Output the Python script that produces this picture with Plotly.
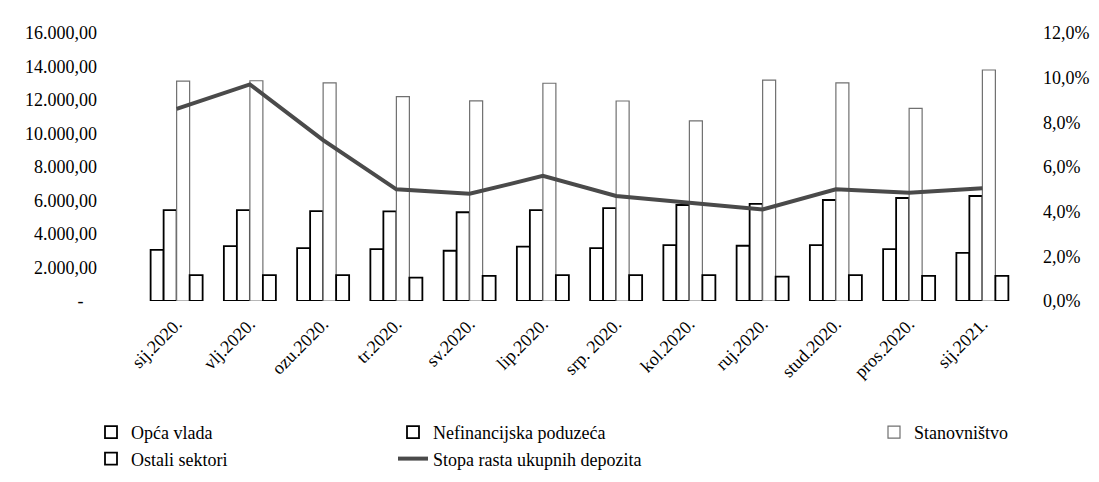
import plotly.graph_objects as go

months = ["sij.2020.", "vlj.2020.", "ozu.2020.", "tr.2020.", "sv.2020.", "lip.2020.",
          "srp. 2020.", "kol.2020.", "ruj.2020.", "stud.2020.", "pros.2020.", "sij.2021."]

opca_vlada = [3050, 3280, 3160, 3100, 3000, 3250, 3160, 3340, 3300, 3340, 3100, 2870]
nefinancijska = [5430, 5430, 5370, 5350, 5300, 5430, 5550, 5730, 5800, 6030, 6150, 6270]
stanovnistvo = [13130, 13150, 13020, 12200, 11950, 13000, 11940, 10750, 13190, 13020, 11500, 13790]
ostali = [1550, 1550, 1550, 1400, 1500, 1550, 1550, 1550, 1450, 1550, 1500, 1500]
stopa_rasta = [0.086, 0.097, 0.072, 0.050, 0.048, 0.056, 0.047, 0.044, 0.041, 0.050, 0.0485, 0.0505]

left_ticks = [0, 2000, 4000, 6000, 8000, 10000, 12000, 14000, 16000]
left_labels = ["-\u00a0\u00a0\u00a0", "2.000,00", "4.000,00", "6.000,00", "8.000,00",
               "10.000,00", "12.000,00", "14.000,00", "16.000,00"]

FONT = "Liberation Serif, Times New Roman, serif"

fig = go.Figure()

fig.add_trace(go.Bar(x=months, y=opca_vlada, name="Opća vlada", legend="legend",
                     marker=dict(color="white", line=dict(color="black", width=1.8))))
fig.add_trace(go.Bar(x=months, y=nefinancijska, name="Nefinancijska poduzeća", legend="legend2",
                     marker=dict(color="white", line=dict(color="black", width=1.8))))
fig.add_trace(go.Bar(x=months, y=stanovnistvo, name="Stanovništvo", legend="legend3",
                     marker=dict(color="white", line=dict(color="#707070", width=1.2))))
fig.add_trace(go.Bar(x=months, y=ostali, name="Ostali sektori", legend="legend",
                     marker=dict(color="white", line=dict(color="black", width=1.8))))
fig.add_trace(go.Scatter(x=months, y=stopa_rasta, name="Stopa rasta ukupnih depozita",
                         legend="legend2", yaxis="y2", mode="lines",
                         line=dict(color="#4a4a4a", width=4)))

legend_common = dict(xref="container", yref="container", xanchor="left", yanchor="top",
                     orientation="v", bgcolor="rgba(0,0,0,0)",
                     font=dict(family=FONT, size=18, color="black"),
                     itemwidth=30, tracegroupgap=0)

fig.update_layout(
    width=1099, height=482,
    paper_bgcolor="white", plot_bgcolor="white",
    separators=",.",
    barmode="group", bargap=0.29, bargroupgap=0,
    margin=dict(l=132, r=88, t=25, b=189, autoexpand=False),
    font=dict(family=FONT, size=18, color="black"),
    xaxis=dict(type="category", tickangle=-45, showgrid=False, showline=False,
               ticks="", ticklabelstandoff=8, tickfont=dict(family=FONT, size=18)),
    yaxis=dict(range=[0, 16000], tickvals=left_ticks, ticktext=left_labels,
               showgrid=False, zeroline=False, showline=False, ticks="",
               ticklabelstandoff=42, tickfont=dict(family=FONT, size=18)),
    yaxis2=dict(range=[0, 0.12], overlaying="y", side="right", tickformat=".1%",
                dtick=0.02, showgrid=False, zeroline=False, showline=False, ticks="",
                ticklabelstandoff=23, tickfont=dict(family=FONT, size=18)),
    legend=dict(x=83 / 1099, y=1 - 406 / 482, **legend_common),
    legend2=dict(x=385 / 1099, y=1 - 406 / 482, **legend_common),
    legend3=dict(x=866 / 1099, y=1 - 406 / 482, **legend_common),
)

fig.write_html("out.html")
